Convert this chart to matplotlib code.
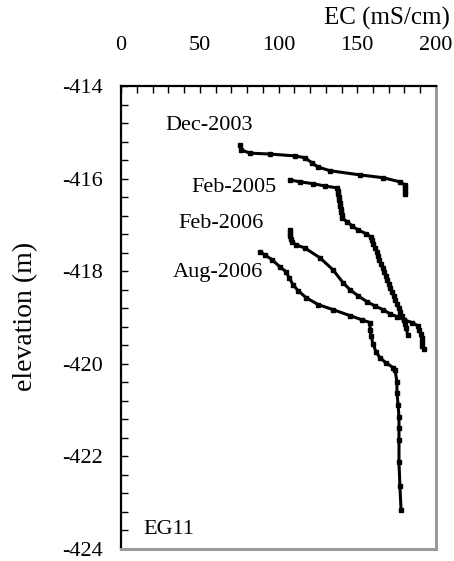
import matplotlib
matplotlib.use("Agg")
import matplotlib.pyplot as plt
from matplotlib.ticker import MultipleLocator

plt.rcParams['font.family'] = ['Liberation Serif', 'DejaVu Serif']

# EC profiles (mS/cm) versus elevation (m) for well EG11
dec2003_ec = [75.6, 76.2, 81.9, 94.6, 110.5, 116.8, 121.3, 125.1, 132.7, 151.7,
              166.3, 177.1, 180.3, 180.3, 180.3, 180.3]
dec2003_elev = [-415.27, -415.38, -415.45, -415.47, -415.51, -415.55, -415.66,
                -415.75, -415.83, -415.92, -415.98, -416.07, -416.14, -416.20,
                -416.27, -416.33]

feb2005_ec = [107.3, 113.7, 121.9, 129.5, 137.1, 137.8, 137.8, 138.4, 138.4,
              139.0, 139.0, 139.7, 139.7, 140.3, 140.3, 143.5, 146.7, 150.5,
              155.6, 158.7, 159.4, 160.3, 161.4, 162.4, 163.3, 164.1, 165.2,
              166.1, 167.1, 168.1, 169.0, 170.1, 171.0, 172.0, 173.1, 174.2,
              175.2, 176.3, 177.3, 178.4, 179.5, 180.4, 181.2, 182.0]
feb2005_elev = [-416.03, -416.07, -416.11, -416.16, -416.20, -416.27, -416.33,
                -416.40, -416.46, -416.53, -416.59, -416.66, -416.72, -416.79,
                -416.85, -416.93, -417.02, -417.11, -417.19, -417.26, -417.32,
                -417.41, -417.49, -417.58, -417.67, -417.75, -417.84, -417.93,
                -418.01, -418.10, -418.19, -418.27, -418.36, -418.45, -418.53,
                -418.62, -418.71, -418.79, -418.88, -418.97, -419.06, -419.14,
                -419.23, -419.38]

feb2006_ec = [107.3, 107.3, 107.3, 107.9, 108.6, 111.1, 116.8, 126.3, 134.6,
              141.0, 145.4, 150.5, 156.2, 161.3, 166.3, 170.8, 175.2, 179.7,
              184.8, 188.6, 189.5, 190.2, 190.8, 190.8, 191.4, 192.1]
feb2006_elev = [-417.11, -417.18, -417.24, -417.30, -417.37, -417.43, -417.50,
                -417.71, -417.97, -418.25, -418.40, -418.53, -418.66, -418.75,
                -418.83, -418.92, -418.98, -419.05, -419.11, -419.18, -419.26,
                -419.35, -419.44, -419.52, -419.61, -419.67]

aug2006_ec = [88.3, 91.4, 95.9, 101.0, 104.8, 106.7, 109.2, 112.4, 117.5, 125.1,
              134.6, 145.4, 153.0, 158.1, 158.1, 158.7, 160.0, 161.9, 164.4,
              168.3, 172.7, 174.0, 175.2, 175.2, 175.9, 176.5, 176.5, 176.5,
              176.5, 177.1, 177.8]
aug2006_elev = [-417.58, -417.65, -417.75, -417.91, -418.01, -418.14, -418.29,
                -418.42, -418.57, -418.72, -418.83, -418.96, -419.05, -419.11,
                -419.26, -419.39, -419.57, -419.74, -419.87, -419.98, -420.08,
                -420.13, -420.39, -420.62, -420.88, -421.14, -421.38, -421.64,
                -422.13, -422.65, -423.15]

survey_labels = ["Dec-2003", "Feb-2005", "Feb-2006", "Aug-2006"]
label_pos = [(56, -414.86), (72, -416.2), (63.5, -416.98), (61.6, -418.03)]

x_ticks = [0, 50, 100, 150, 200]
y_ticks = [-424, -422, -420, -418, -416, -414]

fig = plt.figure(figsize=(4.54, 5.61), dpi=100)
ax = fig.add_axes([121 / 454, 1 - 549 / 561, (436 - 121) / 454, (549 - 86) / 561])

series = [(dec2003_ec, dec2003_elev), (feb2005_ec, feb2005_elev),
          (feb2006_ec, feb2006_elev), (aug2006_ec, aug2006_elev)]
for ec, elev in series:
    ax.plot(ec, elev, color='black', lw=2.2, marker='s', ms=2.8,
            solid_capstyle='round', solid_joinstyle='round')

for text, (tx, ty) in zip(survey_labels, label_pos):
    ax.text(tx, ty, text, ha='center', va='center', fontsize=16)

ax.text(14, -423.58, "EG11", ha='left', va='center', fontsize=16)

ax.set_xlim(0, 200)
ax.set_ylim(-424, -414)
ax.xaxis.tick_top()
ax.set_xticks(x_ticks)
ax.set_yticks(y_ticks)
ax.set_yticklabels([str(v) for v in y_ticks])
ax.xaxis.set_minor_locator(MultipleLocator(10))
ax.yaxis.set_minor_locator(MultipleLocator(0.4))
ax.tick_params(axis='x', which='both', direction='in', length=5, width=1,
               top=True, bottom=False, labelsize=16, pad=22)
ax.tick_params(axis='y', which='both', direction='in', length=5, width=1,
               left=True, right=False, labelsize=16, pad=13)

ax.spines['left'].set_linewidth(1.6)
ax.spines['top'].set_linewidth(1.6)
ax.spines['right'].set_color('#9a9a9a')
ax.spines['right'].set_linewidth(2.2)
ax.spines['bottom'].set_color('#9a9a9a')
ax.spines['bottom'].set_linewidth(2.2)

fig.text(450 / 454, 1 - 18 / 561, "EC (mS/cm)", ha='right', va='center', fontsize=18)
fig.text(26 / 454, 1 - 316 / 561, "elevation (m)", ha='center', va='center',
         rotation=90, fontsize=20)

fig.savefig("out.png", dpi=100)
